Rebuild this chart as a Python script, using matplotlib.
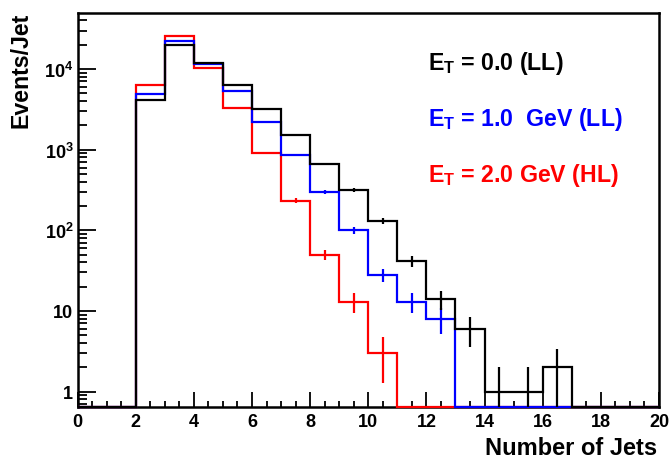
import numpy as np
import matplotlib
matplotlib.use("Agg")
import matplotlib.pyplot as plt
from matplotlib.ticker import MultipleLocator, LogLocator, FixedLocator, NullFormatter

# jet multiplicity histograms, one bin per jet count (0..19)
edges = np.arange(0, 21)
et0_ll = [0, 0, 4170, 20000, 11800, 6330, 3160, 1540, 665, 319, 131, 42, 14, 6, 1, 1, 2, 0, 0, 0]
et1_ll = [0, 0, 4900, 22400, 11500, 5300, 2180, 855, 300, 101, 28, 13, 8, 0, 0, 0, 0, 0, 0, 0]
et2_hl = [0, 0, 6380, 25900, 10300, 3320, 918, 233, 50, 13, 3, 0, 0, 0, 0, 0, 0, 0, 0, 0]

labels = [r"E$_\mathrm{T}$ = 0.0 (LL)", r"E$_\mathrm{T}$ = 1.0  GeV (LL)", r"E$_\mathrm{T}$ = 2.0 GeV (HL)"]
colors = ["black", "blue", "red"]

ymin, ymax = 0.65, 4.95e4

plt.rcParams["font.family"] = ["Liberation Sans", "DejaVu Sans"]
plt.rcParams["font.weight"] = "bold"
plt.rcParams["mathtext.fontset"] = "custom"
plt.rcParams["mathtext.rm"] = "Liberation Sans:bold"
plt.rcParams["mathtext.it"] = "Liberation Sans:bold"
plt.rcParams["mathtext.bf"] = "Liberation Sans:bold"

fig = plt.figure(figsize=(6.7, 4.6), dpi=100)
ax = fig.add_axes([0.1157, 0.1137, 0.9836 - 0.1157, 0.9696 - 0.1137])

centers = edges[:-1] + 0.5
# draw red first, black last (black sits on top)
for vals, col in zip([et2_hl, et1_ll, et0_ll], ["red", "blue", "black"]):
    v = np.array(vals, dtype=float)
    ax.stairs(np.clip(v, ymin, None), edges, baseline=None, color=col, lw=1.6,
              clip_on=False, zorder=3)
    nz = v > 0
    err = np.sqrt(v[nz])
    lo = np.clip(v[nz] - err, ymin, None)
    hi = v[nz] + err
    ax.vlines(centers[nz], lo, hi, color=col, lw=1.6, zorder=3)

ax.set_yscale("log")
ax.set_xlim(0, 20)
ax.set_ylim(ymin, ymax)

ax.xaxis.set_major_locator(MultipleLocator(2))
ax.xaxis.set_minor_locator(MultipleLocator(0.5))
ax.yaxis.set_major_locator(FixedLocator([1, 10, 100, 1000, 10000]))
ax.yaxis.set_minor_locator(LogLocator(base=10, subs=np.arange(2, 10)))
ax.yaxis.set_minor_formatter(NullFormatter())
ax.set_yticklabels(["1", "10", r"$10^{2}$", r"$10^{3}$", r"$10^{4}$"])

ax.tick_params(axis="x", which="major", direction="in", length=10.8, width=1.3,
               labelsize=13, pad=4.5, top=False)
ax.tick_params(axis="x", which="minor", direction="in", length=4.5, width=1.3, top=False)
ax.tick_params(axis="y", which="major", direction="in", length=13, width=1.3,
               labelsize=13, pad=3, right=False)
ax.tick_params(axis="y", which="minor", direction="in", length=6.5, width=1.3, right=False)
for lab in ax.get_xticklabels() + ax.get_yticklabels():
    lab.set_fontweight("bold")

for s in ax.spines.values():
    s.set_linewidth(1.8)

fig.text(0.0313, 0.972, "Events/Jet", rotation=90, ha="center", va="top",
         fontsize=16.7, fontweight="bold")
fig.text(0.981, 0.011, "Number of Jets", ha="right", va="baseline",
         fontsize=17, fontweight="bold")

ypos = [0.8565, 0.7155, 0.5733]
for lab, col, y in zip(labels, colors, ypos):
    ax.text(0.603, y, lab, transform=ax.transAxes, color=col, fontsize=16.7,
            fontweight="bold", ha="left", va="baseline")

fig.savefig("out.png", dpi=100)
